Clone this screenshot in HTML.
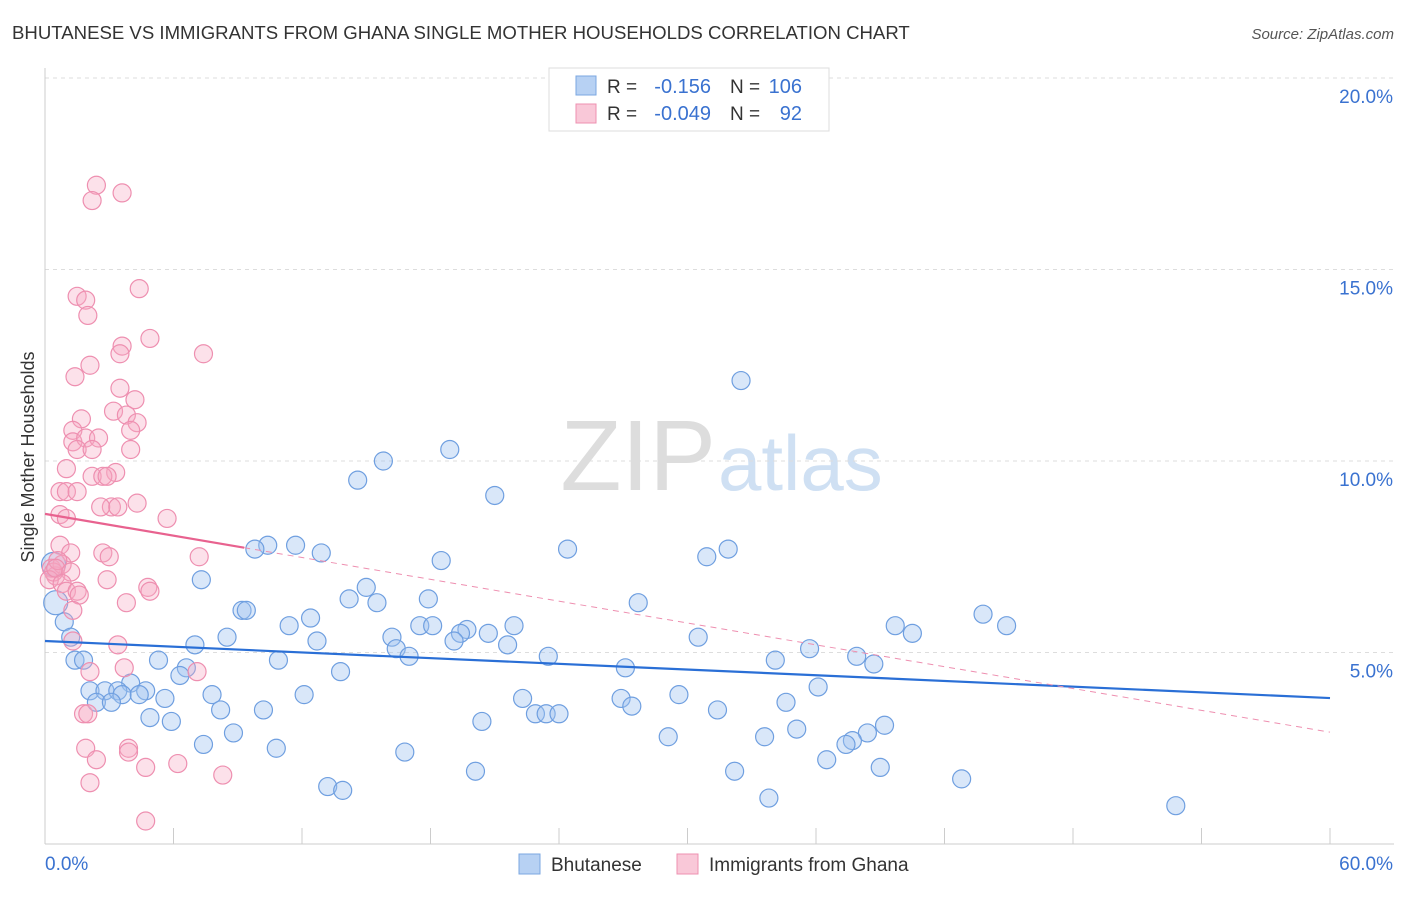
<!DOCTYPE html>
<html><head><meta charset="utf-8"><style>
body{margin:0;background:#fff;font-family:"Liberation Sans",sans-serif;}
svg text{font-family:"Liberation Sans",sans-serif;}
</style></head><body>
<svg id="c" width="1406" height="892">
<text x="12" y="39" font-size="18.6" fill="#333">BHUTANESE VS IMMIGRANTS FROM GHANA SINGLE MOTHER HOUSEHOLDS CORRELATION CHART</text>
<text x="1394" y="39" font-size="15" fill="#555" font-style="italic" text-anchor="end">Source: ZipAtlas.com</text>
<text x="34" y="457" font-size="18" fill="#333" transform="rotate(-90 34 457)" text-anchor="middle">Single Mother Households</text>
<text x="716" y="490" font-size="100" fill="#ddd" text-anchor="end" font-family="Liberation Serif">ZIP</text>
<text x="718" y="490" font-size="78" fill="#cfe0f3">atlas</text>
<g id="grid"></g><g id="blue"></g><g id="pink"></g><g id="lines"></g>
<g>
<rect x="549" y="68" width="280" height="63" fill="#fff" stroke="#ddd"/>
<rect x="576" y="76" width="20" height="19" fill="#b7d1f3" stroke="#7ba7e0"/>
<rect x="576" y="104" width="20" height="19" fill="#f9c8d8" stroke="#ee90b0"/>
<text x="607" y="93" font-size="19" fill="#333">R = </text><text x="711" y="93" font-size="20" fill="#3a72d0" text-anchor="end">-0.156</text>
<text x="730" y="93" font-size="19" fill="#333">N = </text><text x="802" y="93" font-size="20" fill="#3a72d0" text-anchor="end">106</text>
<text x="607" y="120" font-size="19" fill="#333">R = </text><text x="711" y="120" font-size="20" fill="#3a72d0" text-anchor="end">-0.049</text>
<text x="730" y="120" font-size="19" fill="#333">N = </text><text x="802" y="120" font-size="20" fill="#3a72d0" text-anchor="end">92</text>
</g>
<g>
<rect x="519" y="854" width="21" height="20" fill="#b7d1f3" stroke="#7ba7e0"/>
<text x="551" y="871" font-size="19" fill="#333">Bhutanese</text>
<rect x="677" y="854" width="21" height="20" fill="#f9c8d8" stroke="#ee90b0"/>
<text x="709" y="871" font-size="19" fill="#333">Immigrants from Ghana</text>
</g>
</svg>
<script>
const xTicks=[0,6,12,18,24,30,36,42,48,54,60];
const yTicks=[5,10,15,20];
const blueX=[32.5,18.9,15.8,14.6,21.0,10.4,11.7,9.8,12.9,24.4,31.9,30.9,18.5,7.3,15.0,14.2,17.9,15.5,27.7,9.2,9.4,12.4,43.8,44.9,39.7,40.5,11.4,17.5,18.1,21.9,19.7,19.4,20.7,16.2,8.5,7.0,12.7,19.1,21.6,16.4,17.0,30.5,35.7,37.9,23.5,34.1,38.7,27.1,10.9,13.8,5.3,6.6,6.3,36.1,4.0,4.7,2.1,2.8,3.4,3.6,4.4,5.6,7.8,12.1,22.3,29.6,26.9,34.6,2.4,3.1,8.2,10.2,22.9,23.4,24.0,27.4,31.4,4.9,5.9,20.4,8.8,35.1,39.2,38.4,33.6,29.1,37.7,37.4,7.4,10.8,16.8,36.5,20.1,32.2,39.0,42.8,13.2,13.9,33.8,52.8,0.9,1.2,1.4,1.8,0.5,0.4];
const blueY=[12.1,10.3,10.0,9.5,9.1,7.8,7.8,7.7,7.6,7.7,7.7,7.5,7.4,6.9,6.7,6.4,6.4,6.3,6.3,6.1,6.1,5.9,6.0,5.7,5.7,5.5,5.7,5.7,5.7,5.7,5.6,5.5,5.5,5.4,5.4,5.2,5.3,5.3,5.2,5.1,4.9,5.4,5.1,4.9,4.9,4.8,4.7,4.6,4.8,4.5,4.8,4.6,4.4,4.1,4.2,4.0,4.0,4.0,4.0,3.9,3.9,3.8,3.9,3.9,3.8,3.9,3.8,3.7,3.7,3.7,3.5,3.5,3.4,3.4,3.4,3.6,3.5,3.3,3.2,3.2,2.9,3.0,3.1,2.9,2.8,2.8,2.7,2.6,2.6,2.5,2.4,2.2,1.9,1.9,2.0,1.7,1.5,1.4,1.2,1.0,5.8,5.4,4.8,4.8,6.3,7.3];
const pinkX=[2.4,2.2,3.6,4.4,1.5,1.9,2.0,4.9,3.6,3.5,7.4,2.1,1.4,3.5,4.2,3.2,3.8,1.7,4.3,1.3,4.0,1.3,1.9,2.5,1.5,2.2,4.0,1.0,3.3,2.2,2.7,2.9,0.7,1.0,1.5,3.1,4.3,2.6,3.4,0.7,1.0,5.7,0.7,1.2,2.7,3.0,7.2,0.3,0.5,0.8,0.4,0.6,0.2,0.5,1.2,0.8,2.9,1.0,1.5,1.6,4.8,4.9,3.8,1.3,1.3,3.4,3.7,2.1,7.1,1.8,2.0,3.9,1.9,3.9,2.4,4.7,6.2,8.3,2.1,4.7];
const pinkY=[17.2,16.8,17.0,14.5,14.3,14.2,13.8,13.2,13.0,12.8,12.8,12.5,12.2,11.9,11.6,11.3,11.2,11.1,11.0,10.8,10.8,10.5,10.6,10.6,10.3,10.3,10.3,9.8,9.7,9.6,9.6,9.6,9.2,9.2,9.2,8.8,8.9,8.8,8.8,8.6,8.5,8.5,7.8,7.6,7.6,7.5,7.5,7.2,7.0,7.3,7.1,7.4,6.9,7.2,7.1,6.8,6.9,6.6,6.6,6.5,6.7,6.6,6.3,6.1,5.3,5.2,4.6,4.5,4.5,3.4,3.4,2.5,2.5,2.4,2.2,2.0,2.1,1.8,1.6,0.6];
const blueTrend=[5.30,3.81];
const pinkTrend=[8.62,2.92];
const pinkSolidEnd=9.3;
const X=v=>45+v/60*1285, Y=v=>844-v*38.3;
const NS='http://www.w3.org/2000/svg';
function mk(t,a,p){const e=document.createElementNS(NS,t);for(const k in a)e.setAttribute(k,a[k]);p.appendChild(e);return e;}
const grid=document.getElementById('grid');
mk('line',{x1:45,y1:Y(20),x2:1394,y2:Y(20),stroke:'#ddd','stroke-dasharray':'4 4'},grid);
yTicks.forEach(t=>{
 const l=mk('line',{x1:45,y1:Y(t),x2:1394,y2:Y(t),stroke:'#ddd','stroke-dasharray':'4 4'},grid);
 
 
 const tx=mk('text',{x:1393,y:Y(t)+25,'font-size':19,fill:'#3a72d0','text-anchor':'end'},grid);
 tx.textContent=t.toFixed(1)+'%';
 
 
});
mk('line',{x1:45,y1:68,x2:45,y2:844,stroke:'#ccc'},grid);
mk('line',{x1:45,y1:844,x2:1394,y2:844,stroke:'#ccc'},grid);
xTicks.forEach(t=>{
 const l=mk('line',{x1:X(t),y1:828,x2:X(t),y2:844,stroke:'#ccc'},grid);
 
 
});
[[0,'start',45],[60,'end',1393]].forEach(([t,a,x])=>{
 const tx=mk('text',{x:x,y:870,'font-size':19,fill:'#3a72d0','text-anchor':a},grid);
 tx.textContent=t.toFixed(1)+'%';
 
 
});
const bg=document.getElementById('blue');
blueX.forEach((v,i)=>{
 const big=(i>=blueX.length-2);
 const c=mk('circle',{cx:X(v),cy:Y(blueY[i]),r:big?12:9,fill:'rgba(160,195,240,0.4)',stroke:'#6f9fe0','stroke-width':1.2},bg);
 
 
});
const pg=document.getElementById('pink');
pinkX.forEach((v,i)=>{
 const c=mk('circle',{cx:X(v),cy:Y(pinkY[i]),r:9,fill:'rgba(246,170,196,0.35)',stroke:'#ee8fb0','stroke-width':1.2},pg);
 
 
});
const lg=document.getElementById('lines');
const bl=mk('line',{x1:X(0),y1:Y(blueTrend[0]),x2:X(60),y2:Y(blueTrend[1]),stroke:'#2a6fd6','stroke-width':2.2},lg);


const py=x=>pinkTrend[0]+(pinkTrend[1]-pinkTrend[0])*x/60;
const pl=mk('line',{x1:X(0),y1:Y(py(0)),x2:X(pinkSolidEnd),y2:Y(py(pinkSolidEnd)),stroke:'#e8628f','stroke-width':2.2},lg);


const pd=mk('line',{x1:X(pinkSolidEnd),y1:Y(py(pinkSolidEnd)),x2:X(60),y2:Y(py(60)),stroke:'#ee8fb0','stroke-width':1,'stroke-dasharray':'6 5'},lg);


</script>
</body></html>
